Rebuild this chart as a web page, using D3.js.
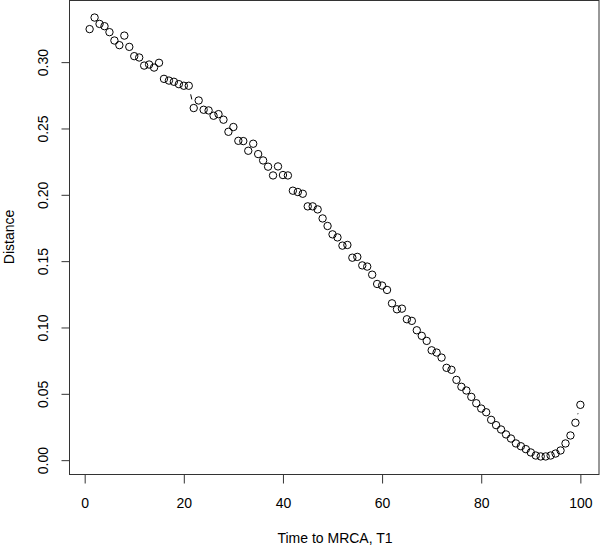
<!DOCTYPE html>
<html>
<head>
<meta charset="utf-8">
<script src="https://cdn.jsdelivr.net/npm/d3@7"></script>
<style>
  body { margin: 0; background: #fff; }
  svg text { font-family: "Liberation Sans", Arial, Helvetica, sans-serif; font-size: 14px; fill: #000; }
</style>
</head>
<body>
<div id="chart"></div>
<script>
// time steps 1..100
const times = d3.range(1, 101);

// distance, one value per time step
const distance = [
  0.3249, 0.3336, 0.3288, 0.3271, 0.3226, 0.3163, 0.3128, 0.3200, 0.3115, 0.3045,
  0.3035, 0.2974, 0.2982, 0.2959, 0.2995, 0.2874, 0.2861, 0.2852, 0.2834, 0.2822,
  0.2822, 0.2654, 0.2711, 0.2641, 0.2636, 0.2596, 0.2608, 0.2566, 0.2475, 0.2511,
  0.2407, 0.2405, 0.2332, 0.2385, 0.2307, 0.2259, 0.2212, 0.2146, 0.2214, 0.2149,
  0.2146, 0.2031, 0.2021, 0.2008, 0.1913, 0.1913, 0.1890, 0.1822, 0.1765, 0.1702,
  0.1679, 0.1617, 0.1622, 0.1526, 0.1532, 0.1468, 0.1459, 0.1398, 0.1328, 0.1316,
  0.1283, 0.1182, 0.1137, 0.1142, 0.1062, 0.1050, 0.0979, 0.0937, 0.0899, 0.0828,
  0.0811, 0.0773, 0.0696, 0.0681, 0.0605, 0.0553, 0.0525, 0.0477, 0.0429, 0.0389,
  0.0361, 0.0304, 0.0264, 0.0231, 0.0194, 0.0163, 0.0126, 0.0105, 0.0083, 0.0058,
  0.0035, 0.0028, 0.0028, 0.0035, 0.0050, 0.0073, 0.0126, 0.0186, 0.0282, 0.0417
];

const xTicks = [0, 20, 40, 60, 80, 100];
const yTicks = [0, 0.05, 0.10, 0.15, 0.20, 0.25, 0.30];

const width = 600, height = 547;
const plot = { left: 70, right: 600, top: 0, bottom: 474 };

// R-style axis range: data extent padded by 4%
function padded(ext) {
  const d = (ext[1] - ext[0]) * 0.04;
  return [ext[0] - d, ext[1] + d];
}

const x = d3.scaleLinear().domain(padded(d3.extent(times))).range([plot.left, plot.right]);
const y = d3.scaleLinear().domain(padded(d3.extent(distance))).range([plot.bottom, plot.top]);

const svg = d3.select("#chart").append("svg")
    .attr("width", width)
    .attr("height", height);

const pts = times.map((t, i) => ({ x: x(t), y: y(distance[i]) }));

// type = "b": line pieces with gaps around each point
const gap = 8.8;
const segs = [];
for (let i = 1; i < pts.length; i++) {
  const a = pts[i - 1], b = pts[i];
  const dx = b.x - a.x, dy = b.y - a.y, len = Math.hypot(dx, dy);
  if (len > 2 * gap) {
    const ux = dx / len, uy = dy / len;
    segs.push([a.x + ux * gap, a.y + uy * gap, b.x - ux * gap, b.y - uy * gap]);
  }
}
svg.append("g").selectAll("line")
    .data(segs)
    .join("line")
    .attr("x1", d => d[0]).attr("y1", d => d[1])
    .attr("x2", d => d[2]).attr("y2", d => d[3])
    .attr("stroke", "#000")
    .attr("stroke-width", 1);

svg.append("g").selectAll("circle")
    .data(pts)
    .join("circle")
    .attr("cx", d => d.x)
    .attr("cy", d => d.y)
    .attr("r", 3.7)
    .attr("fill", "none")
    .attr("stroke", "#000")
    .attr("stroke-width", 1);

// box
svg.append("rect")
    .attr("x", plot.left - 0.5)
    .attr("y", plot.top + 0.5)
    .attr("width", plot.right - plot.left - 0.5)
    .attr("height", plot.bottom - plot.top)
    .attr("fill", "none")
    .attr("stroke", "#333")
    .attr("stroke-width", 1);

// x axis
const xAxis = svg.append("g")
    .attr("transform", `translate(0,${plot.bottom + 0.5})`)
    .call(d3.axisBottom(x).tickValues(xTicks).tickSize(9).tickPadding(0).tickSizeOuter(0));
xAxis.select(".domain").remove();
xAxis.selectAll("line").attr("stroke", "#333");
xAxis.selectAll("text")
    .attr("y", 33)
    .attr("dy", null)
    .style("font-size", "14px")
    .style("font-family", "'Liberation Sans', Arial, sans-serif")
    .attr("fill", "#000");

// y axis
const yAxis = svg.append("g")
    .attr("transform", `translate(${plot.left - 0.5},0)`)
    .call(d3.axisLeft(y).tickValues(yTicks).tickFormat(d3.format(".2f")).tickSize(8).tickSizeOuter(0));
yAxis.select(".domain").remove();
yAxis.selectAll("line").attr("stroke", "#333");
yAxis.selectAll("text")
    .attr("x", null)
    .attr("dy", null)
    .attr("transform", "translate(-22,0) rotate(-90)")
    .attr("text-anchor", "middle")
    .attr("y", 0)
    .style("font-size", "14px")
    .style("font-family", "'Liberation Sans', Arial, sans-serif")
    .attr("fill", "#000");

// axis titles
svg.append("text")
    .attr("x", (plot.left + plot.right) / 2)
    .attr("y", 543)
    .attr("text-anchor", "middle")
    .text("Time to MRCA, T1");

svg.append("text")
    .attr("transform", `translate(13.5,${(plot.top + plot.bottom) / 2}) rotate(-90)`)
    .attr("text-anchor", "middle")
    .text("Distance");
</script>
</body>
</html>
